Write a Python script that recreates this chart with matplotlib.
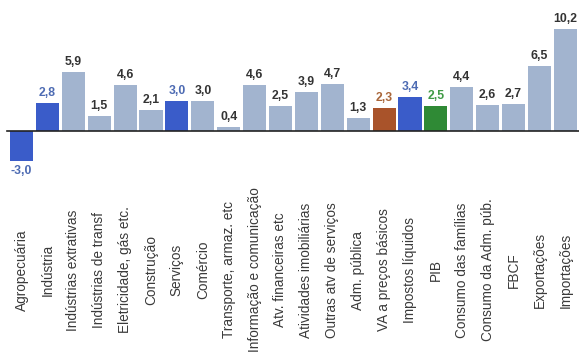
#!/usr/bin/env python3
"""Bar chart of growth rates by GDP component."""

import matplotlib
matplotlib.use("Agg")
import matplotlib.pyplot as plt
import matplotlib.transforms as mtransforms
import numpy as np

CATEGORIES = [
    "Agropecuária", "Indústria", "Indústrias extrativas", "Indústrias de transf",
    "Eletricidade, gás etc.", "Construção", "Serviços", "Comércio",
    "Transporte, armaz. etc", "Informação e comunicação", "Atv. financeiras etc",
    "Atividades imobiliárias", "Outras atv de serviços", "Adm. pública",
    "VA a preços básicos", "Impostos líquidos", "PIB", "Consumo das famílias",
    "Consumo da Adm. púb.", "FBCF", "Exportações", "Importações",
]
VALUES = [-3.0, 2.8, 5.9, 1.5, 4.6, 2.1, 3.0, 3.0, 0.4, 4.6, 2.5,
          3.9, 4.7, 1.3, 2.3, 3.4, 2.5, 4.4, 2.6, 2.7, 6.5, 10.2]
# highlight group per bar
GROUPS = ["main", "main", "sub", "sub", "sub", "sub", "main", "sub", "sub", "sub", "sub",
          "sub", "sub", "sub", "va", "main", "pib", "sub", "sub", "sub", "sub", "sub"]

BAR_COLORS = {"sub": "#a2b4cf", "main": "#3a5cc9", "va": "#a9532a", "pib": "#2f8a35"}
TEXT_COLORS = {"sub": "#333333", "main": "#4d6bb3", "va": "#a9663a", "pib": "#3f9a45"}

plt.rcParams["font.family"] = ["Liberation Sans", "DejaVu Sans"]

fig = plt.figure(figsize=(5.79, 3.52), dpi=100)
ax = fig.add_axes([0, (352 - 175) / 352, 1, 175 / 352])

x = np.arange(len(VALUES))
colors = [BAR_COLORS[g] for g in GROUPS]
ax.bar(x, VALUES, width=0.89, color=colors, zorder=2)
ax.axhline(0, xmin=0.012, xmax=1, color="#222222", linewidth=1.2, zorder=3)

for xi, v, g in zip(x, VALUES, GROUPS):
    label = f"{v:.1f}".replace(".", ",")
    if v >= 0:
        ax.annotate(label, (xi, v), xytext=(0, 3), textcoords="offset points",
                    ha="center", va="bottom", fontsize=8.8, fontweight="bold",
                    color=TEXT_COLORS[g])
    else:
        ax.annotate(label, (xi, v), xytext=(0, -3), textcoords="offset points",
                    ha="center", va="top", fontsize=8.8, fontweight="bold",
                    color=TEXT_COLORS[g])

trans = mtransforms.blended_transform_factory(ax.transData, fig.transFigure)
for xi, name in zip(x, CATEGORIES):
    ax.text(xi, (352 - 270) / 352, name, transform=trans, rotation=90,
            ha="center", va="center", fontsize=9.8, color="#3a3a3a")

step = 25.9
ax.set_xlim(-21.5 / step, (579 - 21.5) / step)
ax.set_ylim(-4.4, 13.1)
ax.axis("off")

fig.savefig("out.png", dpi=100)
